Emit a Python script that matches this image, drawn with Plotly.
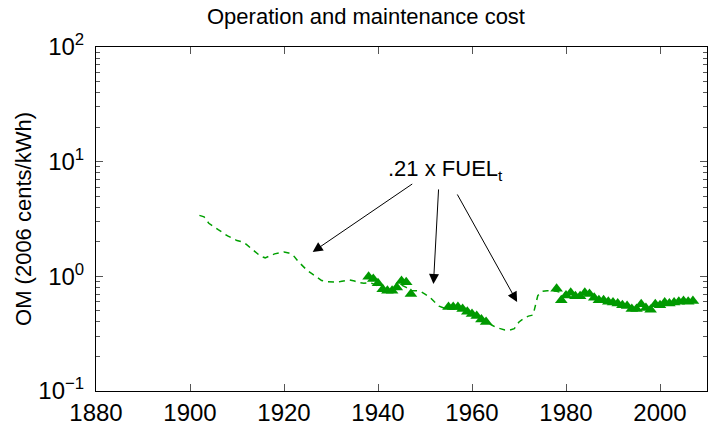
import plotly.graph_objects as go

# Dashed line: 0.21 x FUEL_t estimate (annual, 1902-1980)
fuel_years = list(range(1902, 1981))
fuel_vals = [3.4, 3.3, 2.9, 2.7, 2.55, 2.4, 2.25, 2.15, 2.05, 2.0,
             1.9, 1.75, 1.62, 1.5, 1.45, 1.52, 1.57, 1.6, 1.63, 1.6,
             1.52, 1.35, 1.22, 1.12, 1.05, 0.98, 0.92, 0.9, 0.89, 0.89,
             0.9, 0.92, 0.93, 0.91, 0.88, 0.87, 0.88, 0.86, 0.82, 0.78,
             0.76, 0.76, 0.8, 0.84, 0.8, 0.75, 0.75, 0.74, 0.70, 0.66,
             0.6, 0.55, 0.53, 0.52, 0.52, 0.52, 0.51, 0.5, 0.48, 0.46,
             0.43, 0.41, 0.38, 0.36, 0.35, 0.34, 0.34, 0.35, 0.40, 0.43,
             0.45, 0.46, 0.68, 0.74, 0.75, 0.75, 0.74, 0.72, 0.72]

# Observed O&M cost (triangles)
om_years_a = list(range(1938, 1948))
om_vals_a = [0.99, 0.95, 0.87, 0.77, 0.75, 0.75, 0.80, 0.91, 0.89, 0.70]
om_years_b = list(range(1955, 1964))
om_vals_b = [0.54, 0.54, 0.54, 0.52, 0.49, 0.47, 0.45, 0.42, 0.40]
om_years_c = list(range(1978, 2008))
om_vals_c = [0.78, 0.62, 0.68, 0.72, 0.67, 0.67, 0.72, 0.70, 0.65, 0.62,
             0.62, 0.60, 0.59, 0.58, 0.56, 0.55, 0.52, 0.52, 0.57, 0.53,
             0.51, 0.57, 0.56, 0.59, 0.58, 0.59, 0.60, 0.61, 0.60, 0.61]

om_years = om_years_a + [None] + om_years_b + [None] + om_years_c
om_vals = om_vals_a + [None] + om_vals_b + [None] + om_vals_c

x_ticks = [1880, 1900, 1920, 1940, 1960, 1980, 2000]
y_ticks = [0.1, 1, 10, 100]
y_ticktext = ["10<sup>\u22121</sup>", "10<sup>0</sup>", "10<sup>1</sup>", "10<sup>2</sup>"]
minor_vals = [m * d for d in [0.1, 1, 10] for m in range(2, 10)]

# annotation: label position and arrow (head, tail) positions in data units (log10 for y)
label_pos = (1954.4, 0.93)
arrow_heads = [(1926.1, 0.213), (1951.8, -0.066), (1969.6, -0.223)]
arrow_tails = [(1947.6, 0.814), (1952.9, 0.771), (1956.7, 0.727)]

GREEN = "#009900"
FONT = "Liberation Sans"

fig = go.Figure()
fig.add_trace(go.Scatter(x=fuel_years, y=fuel_vals, mode="lines",
                         line=dict(color="#00a000", width=1.5, dash="6px,5px"),
                         showlegend=False))
fig.add_trace(go.Scatter(x=om_years, y=om_vals, mode="markers",
                         marker=dict(symbol="triangle-up", size=11, color=GREEN,
                                     line=dict(width=0)),
                         showlegend=False))

fig.add_annotation(x=label_pos[0], y=label_pos[1], xref="x", yref="y",
                   text=".21 x FUEL<sub>t</sub>", showarrow=False,
                   font=dict(family=FONT, size=22, color="black"))
for (hx, hy), (tx, ty) in zip(arrow_heads, arrow_tails):
    fig.add_annotation(x=hx, y=hy, xref="x", yref="y", ax=tx, ay=ty,
                       axref="x", ayref="y", text="", showarrow=True,
                       arrowhead=2, arrowsize=2, arrowwidth=1,
                       arrowcolor="black", standoff=0, startstandoff=0)

# The page body has an 8px default margin, so the figure is sized to fit inside it.
fig.update_layout(
    width=716, height=415,
    margin=dict(l=88, r=17, t=39, b=32),
    plot_bgcolor="white", paper_bgcolor="white",
    font=dict(family=FONT, color="black"),
    title=dict(text="Operation and maintenance cost", x=0.5, xanchor="center",
               y=0.998, yanchor="top", font=dict(family=FONT, size=22)),
)
fig.update_xaxes(range=[1880, 2010], tickvals=x_ticks, ticks="inside", ticklen=7,
                 tickcolor="#555", showline=True, linecolor="black", linewidth=1,
                 mirror="ticks", showgrid=False, zeroline=False, automargin=False,
                 tickfont=dict(family=FONT, size=24))
fig.update_yaxes(type="log", range=[-1, 2], tickvals=y_ticks, ticktext=y_ticktext,
                 ticks="inside", ticklen=7, tickcolor="#555", showline=True,
                 linecolor="black", linewidth=1, mirror="ticks", showgrid=False,
                 zeroline=False, automargin=False, tickfont=dict(family=FONT, size=24),
                 ticklabelstandoff=6,
                 minor=dict(tickvals=minor_vals, ticks="inside", ticklen=4,
                            tickcolor="#555", showgrid=False),
                 title=dict(text="OM (2006 cents/kWh)", standoff=0,
                            font=dict(family=FONT, size=22)))

fig.write_html("out.html")
